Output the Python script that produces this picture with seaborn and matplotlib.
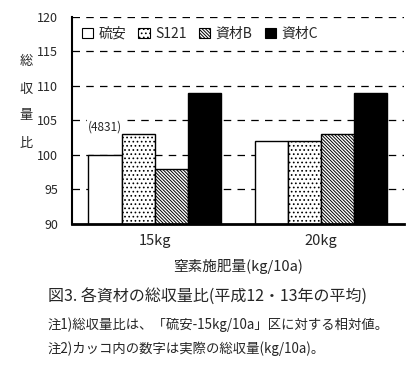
import numpy as np
import pandas as pd
import matplotlib.pyplot as plt
import seaborn as sns
from matplotlib.patches import Patch


# =============================================================================
# Data
# =============================================================================

rates = ["15kg", "20kg"]
materials = ["硫安", "S121", "資材B", "資材C"]

yield_15kg = [100, 103, 98, 109]
yield_20kg = [102, 102, 103, 109]

actual_label = "(4831)"

y_ticks = [90, 95, 100, 105, 110, 115, 120]

y_title = ["総", "収", "量", "比"]


df = pd.DataFrame({
    "rate": np.repeat(rates, len(materials)),
    "material": materials * len(rates),
    "ratio": yield_15kg + yield_20kg,
})


# =============================================================================
# Figure
# =============================================================================

sns.set_style("white")
plt.rcParams["font.family"] = ["Noto Sans CJK JP", "DejaVu Sans"]
plt.rcParams["hatch.linewidth"] = 0.7

fig = plt.figure(figsize=(4.2, 3.69), dpi=100)
ax = fig.add_axes([0.171, 0.393, 0.791, 0.561])

for y in y_ticks[1:]:
    ax.axhline(y, color="black", linestyle=(0, (6, 5)), linewidth=0.9, zorder=0)

sns.barplot(
    data=df,
    x="rate",
    y="ratio",
    hue="material",
    hue_order=materials,
    order=rates,
    width=0.8,
    palette=["white"] * 4,
    edgecolor="black",
    linewidth=1.0,
    legend=False,
    ax=ax,
    zorder=2,
)

styles = [
    ("white", ""),
    ("white", "...."),
    ("white", "\\" * 10),
    ("black", ""),
]

for container, (fc, hatch) in zip(ax.containers, styles):
    for bar in container:
        bar.set_facecolor(fc)
        bar.set_hatch(hatch)

first_bar = ax.containers[0][0]
ax.text(
    first_bar.get_x() + first_bar.get_width() / 2,
    104.0,
    actual_label,
    ha="center",
    va="center",
    fontsize=8.5,
    zorder=1,
    bbox=dict(facecolor="white", edgecolor="none", pad=1),
)

ax.set_ylim(90, 120)
ax.set_xlim(-0.5, 1.5)
ax.set_yticks(y_ticks)
ax.tick_params(axis="y", direction="in", length=4, width=1, labelsize=9, pad=10)
ax.tick_params(axis="x", length=0, labelsize=10.5, pad=7)

ax.set_xlabel("窒素施肥量(kg/10a)", fontsize=10.5, labelpad=8)
ax.set_ylabel("")

for side in ["top", "right"]:
    ax.spines[side].set_visible(False)
ax.spines["left"].set_linewidth(1.5)
ax.spines["left"].set_color("black")
ax.spines["bottom"].set_linewidth(2)
ax.spines["bottom"].set_color("black")

# vertical title, one character per line
for i, ch in enumerate(y_title):
    fig.text(0.062, 1 - (62 + 27 * i) / 369, ch, fontsize=9.5,
             ha="center", va="center")

handles = [
    Patch(facecolor=fc, edgecolor="black", hatch=hatch, linewidth=0.8)
    for fc, hatch in styles
]

ax.legend(
    handles,
    materials,
    loc="upper left",
    bbox_to_anchor=(0.0, 1.0),
    ncol=4,
    frameon=False,
    fontsize=10,
    handlelength=0.8,
    handleheight=0.8,
    handletextpad=0.4,
    columnspacing=0.9,
    borderaxespad=0.3,
)

fig.text(0.114, 0.198, "図3. 各資材の総収量比(平成12・13年の平均)", fontsize=11.5, va="center")
fig.text(0.114, 0.119, "注1)総収量比は、「硫安-15kg/10a」区に対する相対値。", fontsize=9.6, va="center")
fig.text(0.114, 0.054, "注2)カッコ内の数字は実際の総収量(kg/10a)。", fontsize=9.6, va="center")

plt.savefig("out.png", dpi=100)
